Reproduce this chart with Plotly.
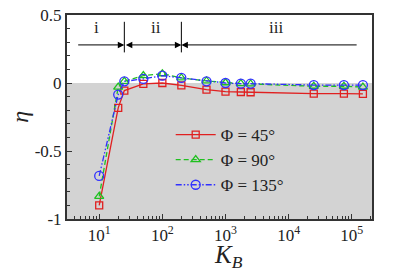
import plotly.graph_objects as go
import math

K_B = [10, 20, 25, 50, 100, 200, 500, 1000, 1750, 2500, 25000, 75000, 150000]
eta_45 = [-0.90, -0.183, -0.056, -0.007, 0.0, -0.017, -0.049, -0.063, -0.066, -0.068, -0.078, -0.078, -0.080]
eta_90 = [-0.834, -0.030, 0.012, 0.054, 0.068, 0.037, 0.015, 0.002, -0.005, -0.007, -0.024, -0.024, -0.030]
eta_135 = [-0.683, -0.085, 0.012, 0.030, 0.054, 0.037, 0.012, 0.000, -0.005, -0.005, -0.015, -0.015, -0.015]

series_names = ["Φ\u00a0=\u00a045°", "Φ\u00a0=\u00a090°", "Φ\u00a0=\u00a0135°"]
region_labels = ["i", "ii", "iii"]
region_label_x = [9.2, 80, 6200]
region_bounds = [25, 200]
arrow_ends = [4.4, 126000]
x_tickvals = [10, 100, 1000, 10000, 100000]
x_ticktext = ["10<sup>1</sup>", "10<sup>2</sup>", "10<sup>3</sup>", "10<sup>4</sup>", "10<sup>5</sup>"]
y_tickvals = [-1, -0.5, 0, 0.5]
y_ticktext = ["-1", "-0.5", "0", "0.5"]

SERIF = "Liberation Serif"

fig = go.Figure()

fig.add_shape(type="rect", xref="paper", x0=0, x1=1, yref="y", y0=-1, y1=0,
              fillcolor="#d3d3d3", line=dict(width=0), layer="below")

fig.add_trace(go.Scatter(x=K_B, y=eta_45, name=series_names[0], mode="lines+markers",
                         line=dict(color="#e02020", width=1.3),
                         marker=dict(symbol="square-open", size=7, color="#e02020", line=dict(width=1.3))))
fig.add_trace(go.Scatter(x=K_B, y=eta_90, name=series_names[1], mode="lines+markers",
                         line=dict(color="#20c020", width=1.3, dash="5px,3px"),
                         marker=dict(symbol="triangle-up-open", size=8, color="#20c020", line=dict(width=1.3))))
fig.add_trace(go.Scatter(x=K_B, y=eta_135, name=series_names[2], mode="lines+markers",
                         line=dict(color="#3030ff", width=1.3, dash="6px,2px,1.5px,2px,1.5px,2px"),
                         marker=dict(symbol="circle-open", size=9, color="#3030ff", line=dict(width=1.3))))

# region arrows
y_arrow = 0.28
lx = lambda v: math.log10(v)
segs = [(arrow_ends[0], region_bounds[0], "end"),
        (region_bounds[0], region_bounds[1], "end+start"),
        (arrow_ends[1], region_bounds[1], "end")]
for tail, head, side in segs:
    fig.add_annotation(x=lx(head), y=y_arrow, ax=lx(tail), ay=y_arrow,
                       xref="x", yref="y", axref="x", ayref="y",
                       showarrow=True, arrowhead=2, arrowsize=1.3, arrowwidth=1,
                       arrowcolor="#000000", arrowside=side, text="", standoff=0, startstandoff=0)
for b in region_bounds:
    fig.add_shape(type="line", xref="x", yref="y", x0=b, x1=b, y0=0.225, y1=0.45,
                  line=dict(color="#000000", width=1))
for lab, xv in zip(region_labels, region_label_x):
    fig.add_annotation(x=lx(xv), y=0.41, xref="x", yref="y", text=lab, showarrow=False,
                       font=dict(family=SERIF, size=17, color="#222"))

fig.add_annotation(x=0.53, y=-0.10, xref="paper", yref="paper", text="<i>K</i><sub><i>B</i></sub>",
                   xanchor="center", showarrow=False, font=dict(family=SERIF, size=25, color="#222"),
                   yanchor="top")
fig.add_annotation(x=-0.155, y=0.5, xref="paper", yref="paper", text="<i>η</i>", textangle=-90,
                   xanchor="center", yanchor="middle",
                   showarrow=False, font=dict(family=SERIF, size=24, color="#222"))

axis_common = dict(showgrid=False, zeroline=False, showline=True, linecolor="#333333", linewidth=2,
                   mirror=True, ticks="inside", tickcolor="#333333", tickwidth=1, ticklen=5,
                   automargin=False,
                   tickfont=dict(family=SERIF, size=17, color="#222"))

fig.update_xaxes(type="log", range=[0.49, 5.32], tickmode="array", tickvals=x_tickvals, ticktext=x_ticktext,
                 minor=dict(ticks="inside", ticklen=3, tickcolor="#333333", dtick="D1"),
                 **axis_common)
fig.update_yaxes(range=[-1, 0.5], tickmode="array", tickvals=y_tickvals, ticktext=y_ticktext,
                 minor=dict(ticks="inside", ticklen=3, tickcolor="#333333", dtick=0.1, tick0=0),
                 **axis_common)

fig.update_layout(width=407, height=272, margin=dict(l=67, r=35, t=15, b=53, autoexpand=False),
                  plot_bgcolor="white", paper_bgcolor="white",
                  font=dict(family=SERIF, color="#222"),
                  legend=dict(x=0.34, y=0.50, xanchor="left", yanchor="top", bgcolor="rgba(0,0,0,0)",
                              font=dict(family=SERIF, size=17, color="#222"), tracegroupgap=0,
                              itemwidth=40),
                  showlegend=True)

fig.write_html("out.html", config={"displayModeBar": False},
               post_script="document.body.style.margin='0';document.body.style.padding='0';")
